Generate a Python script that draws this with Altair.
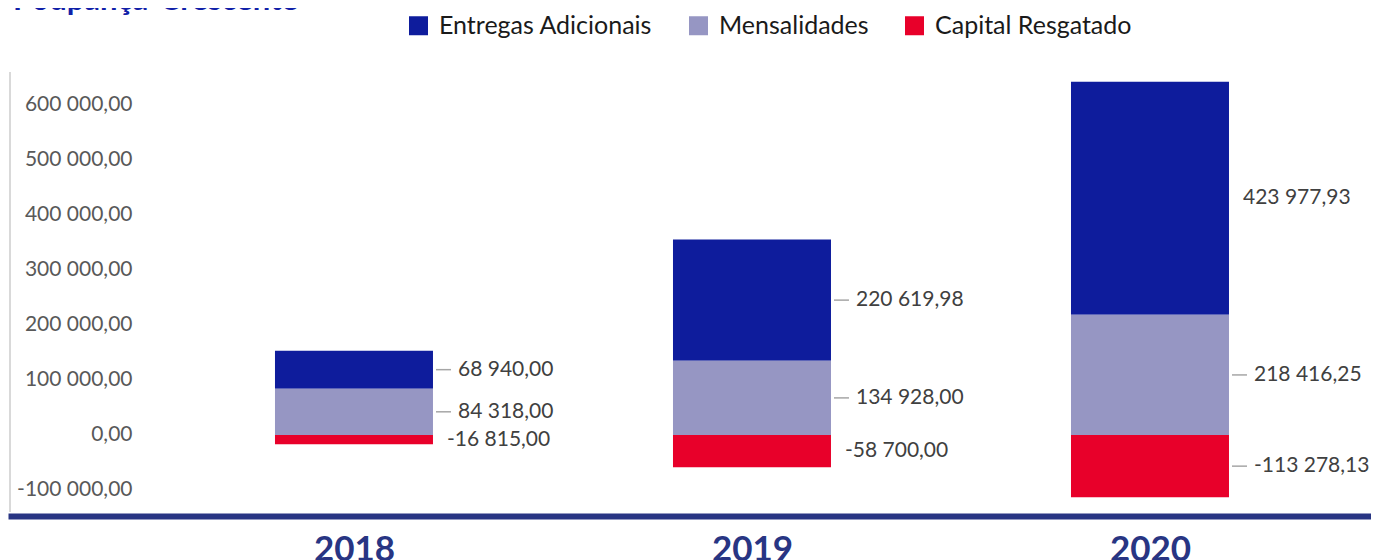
import altair as alt
import pandas as pd

# ---- data ----
years = [2018, 2019, 2020]
series = ["Entregas Adicionais", "Mensalidades", "Capital Resgatado"]
entregas = [68940.00, 220619.98, 423977.93]
mensalidades = [84318.00, 134928.00, 218416.25]
capital = [-16815.00, -58700.00, -113278.13]
stack_order = ["Mensalidades", "Entregas Adicionais", "Capital Resgatado"]
y_ticks = [-100000, 0, 100000, 200000, 300000, 400000, 500000, 600000]
chart_title = "Poupança-Crescente"

colors = ["#0E1C9C", "#9696C3", "#E8002A"]

rows = []
for i, yr in enumerate(years):
    for s, vals in zip(series, [entregas, mensalidades, capital]):
        rows.append({"year": yr, "series": s, "value": vals[i],
                     "order": stack_order.index(s)})
df = pd.DataFrame(rows)

FMT = "replace(replace(replace(format({v}, ',.2f'), ',', ' '), '.', ','), '\u2212', '-')"

W, H = 1363, 444
xscale = alt.Scale(domain=[2017.1307, 2020.5553], nice=False, zero=False, padding=0)
yscale = alt.Scale(domain=[-147273, 660000], nice=False, zero=False, padding=0)

base = alt.Chart(df).transform_stack(
    stack="value", groupby=["year"], as_=["v0", "v1"],
    sort=[alt.SortField("order", order="ascending")]
).transform_calculate(
    mid="(datum.v0 + datum.v1) / 2",
    lab=FMT.format(v="datum.value"),
)

x_axis = alt.Axis(values=years, format="d", title=None, grid=False, ticks=False,
                  tickSize=0, domainColor="#283583", domainWidth=6,
                  labelFont="Lato", labelFontSize=35, labelFontWeight="bold",
                  labelColor="#283583", labelPadding=16, labelFlush=False,
                  labelBaseline="top", labelOverlap=False)
y_axis = alt.Axis(values=y_ticks, labelExpr=FMT.format(v="datum.value"),
                  orient="left", offset=-124, domain=False, ticks=False,
                  tickSize=0, labelPadding=0, grid=False, title=None,
                  labelFont="Lato", labelFontSize=21, labelColor="#595959")

bars = base.mark_bar(size=158).encode(
    x=alt.X("year:Q", scale=xscale, axis=x_axis),
    y=alt.Y("v0:Q", scale=yscale, axis=y_axis),
    y2="v1:Q",
    color=alt.Color("series:N", scale=alt.Scale(domain=series, range=colors),
                    legend=alt.Legend(orient="none", legendX=398, legendY=-59,
                                      direction="horizontal", title=None,
                                      symbolType="square", symbolSize=361,
                                      symbolStrokeWidth=0, labelFont="Lato",
                                      labelFontSize=25, labelColor="#1A1A1A",
                                      labelOffset=8, columnPadding=33,
                                      labelLimit=400)),
)

no_leader = "(datum.series == 'Capital Resgatado' && datum.year < 2020) || (datum.series == 'Entregas Adicionais' && datum.year == 2020)"

leaders = base.transform_filter("!(" + no_leader + ")").mark_rule(
    color="#A6A6A6", strokeWidth=1.5, xOffset=82, x2Offset=97
).encode(x="year:Q", x2="year:Q", y="mid:Q")

labels_lead = base.transform_filter("!(" + no_leader + ")").mark_text(
    align="left", baseline="middle", dx=104, font="Lato", fontSize=21,
    color="#404040"
).encode(x="year:Q", y="mid:Q", text="lab:N")

labels_free = base.transform_filter(no_leader).mark_text(
    align="left", baseline="middle", dx=93, font="Lato", fontSize=21,
    color="#404040"
).encode(x="year:Q", y="mid:Q", text="lab:N")

left_line = alt.Chart(pd.DataFrame({"a": [0]})).mark_rule(
    color="#D9D9D9", strokeWidth=2
).encode(x=alt.value(2), y=alt.value(0), y2=alt.value(440))

title_text = alt.Chart(pd.DataFrame({"t": [chart_title]})).mark_text(
    align="left", baseline="alphabetic", font="Lato", fontSize=31,
    fontWeight="bold", color="#1020A8"
).encode(text="t:N", x=alt.value(5), y=alt.value(-62))

chart = alt.layer(left_line, bars, leaders, labels_lead, labels_free,
                  title_text).properties(
    width=W, height=H,
    padding={"left": 0, "top": 64, "right": 0, "bottom": 44},
    autosize=alt.AutoSizeParams(type="none"),
).configure_view(stroke=None)

chart.save("out.html", embed_options={"renderer": "svg", "actions": False})
